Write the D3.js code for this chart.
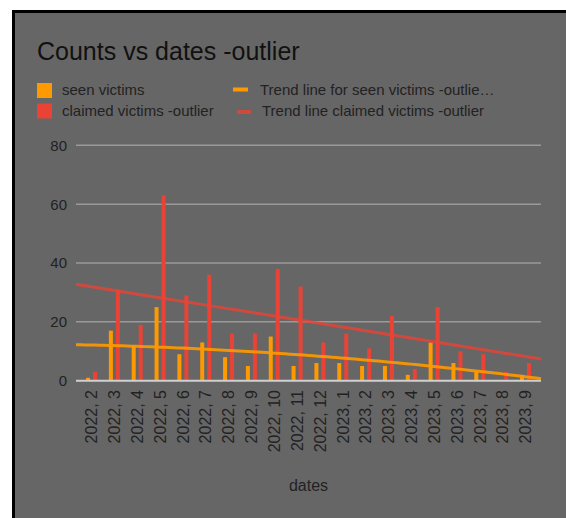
<!DOCTYPE html>
<html>
<head>
<meta charset="utf-8">
<script src="https://cdn.jsdelivr.net/npm/d3@7"></script>
<style>
  body { margin: 0; background: #fff; }
  text { font-family: "Liberation Sans", Arial, sans-serif; }
</style>
</head>
<body>
<script>
var width = 566,
    height = 518;

// months on the x axis
var dates = ['2022, 2', '2022, 3', '2022, 4', '2022, 5', '2022, 6', '2022, 7', '2022, 8', '2022, 9',
             '2022, 10', '2022, 11', '2022, 12', '2023, 1', '2023, 2', '2023, 3', '2023, 4', '2023, 5',
             '2023, 6', '2023, 7', '2023, 8', '2023, 9'];
var seen    = [1, 17, 12, 25, 9, 13, 8, 5, 15, 5, 6, 6, 5, 5, 2, 13, 6, 3, 0, 2];
var claimed = [3, 31, 19, 63, 29, 36, 16, 16, 38, 32, 13, 16, 11, 22, 4, 25, 10, 9, 3, 6];
var yTicks  = [0, 20, 40, 60, 80];

var plot = { left: 76, right: 541, top: 145.3, bottom: 380.7 };

var svg = d3.select('body').append('svg')
  .attr('width', width)
  .attr('height', height);

// grey card with a black frame on the top and left
svg.append('rect')
  .attr('x', 13.5).attr('y', 11.5)
  .attr('width', width).attr('height', height)
  .attr('fill', '#666666')
  .attr('stroke', '#000').attr('stroke-width', 3);

var x = d3.scaleLinear().domain([-0.68, 19.68]).range([plot.left, plot.right]);
var y = d3.scaleLinear().domain([0, 80]).range([plot.bottom, plot.top]);

// title
svg.append('text')
  .attr('x', 37).attr('y', 60)
  .attr('font-size', '25px')
  .attr('fill', '#111')
  .text('Counts vs dates -outlier');

// legend
var legend = svg.append('g');
legend.append('rect').attr('x', 37).attr('y', 83).attr('width', 15).attr('height', 15).attr('fill', '#ff9900');
legend.append('rect').attr('x', 37).attr('y', 103.5).attr('width', 15).attr('height', 15).attr('fill', '#ea4335');
legend.append('text').attr('x', 62).attr('y', 95).attr('font-size', '15px').attr('fill', '#222').text('seen victims');
legend.append('text').attr('x', 62).attr('y', 116).attr('font-size', '15px').attr('fill', '#222').text('claimed victims -outlier');
legend.append('line').attr('x1', 233).attr('x2', 248).attr('y1', 89.5).attr('y2', 89.5)
  .attr('stroke', '#ff9900').attr('stroke-width', 4);
legend.append('line').attr('x1', 237).attr('x2', 251).attr('y1', 112).attr('y2', 112)
  .attr('stroke', '#ea4335').attr('stroke-opacity', 0.8).attr('stroke-width', 4);
legend.append('text').attr('x', 260).attr('y', 95).attr('font-size', '15px').attr('fill', '#222').text('Trend line for seen victims -outlie\u2026');
legend.append('text').attr('x', 262).attr('y', 116).attr('font-size', '15px').attr('fill', '#222').text('Trend line claimed victims -outlier');

// gridlines and y labels
svg.selectAll('.grid')
  .data(yTicks.filter(function(d) { return d > 0; }))
  .enter().append('line')
  .attr('x1', plot.left).attr('x2', plot.right)
  .attr('y1', function(d) { return y(d); })
  .attr('y2', function(d) { return y(d); })
  .attr('stroke', '#9a9a9a').attr('stroke-width', 1.5);

svg.selectAll('.ylab')
  .data(yTicks)
  .enter().append('text')
  .attr('x', 67)
  .attr('y', function(d) { return y(d); })
  .attr('dy', '0.36em')
  .attr('text-anchor', 'end')
  .attr('font-size', '15px')
  .attr('fill', '#222')
  .text(function(d) { return d; });

// bars: seen left of the month, claimed right of it
var barW = 4;
svg.selectAll('.seen')
  .data(seen)
  .enter().append('rect')
  .attr('x', function(d, i) { return x(i) - 3.5 - barW / 2; })
  .attr('width', barW)
  .attr('y', function(d) { return y(d); })
  .attr('height', function(d) { return y(0) - y(d); })
  .attr('fill', '#ff9900');

svg.selectAll('.claimed')
  .data(claimed)
  .enter().append('rect')
  .attr('x', function(d, i) { return x(i) + 3.5 - barW / 2; })
  .attr('width', barW)
  .attr('y', function(d) { return y(d); })
  .attr('height', function(d) { return y(0) - y(d); })
  .attr('fill', '#ea4335');

// baseline
svg.append('line')
  .attr('x1', plot.left).attr('x2', plot.right)
  .attr('y1', y(0)).attr('y2', y(0))
  .attr('stroke', '#d0d0d0').attr('stroke-width', 2);

// least squares fit of given degree, returns coefficients c0 + c1*x + c2*x^2 ...
function polyfit(vals, deg) {
  var n = deg + 1, A = [], b = [];
  for (var r = 0; r < n; r++) {
    A.push([]);
    b.push(d3.sum(vals, function(v, i) { return v * Math.pow(i, r); }));
    for (var c = 0; c < n; c++) A[r].push(d3.sum(vals, function(v, i) { return Math.pow(i, r + c); }));
  }
  for (var k = 0; k < n; k++) {
    for (var j = k + 1; j < n; j++) {
      var f = A[j][k] / A[k][k];
      for (var m = k; m < n; m++) A[j][m] -= f * A[k][m];
      b[j] -= f * b[k];
    }
  }
  var coef = new Array(n);
  for (var k2 = n - 1; k2 >= 0; k2--) {
    var s = b[k2];
    for (var m2 = k2 + 1; m2 < n; m2++) s -= A[k2][m2] * coef[m2];
    coef[k2] = s / A[k2][k2];
  }
  return coef;
}

function trendPath(coef) {
  var pts = d3.range(0, 101).map(function(t) {
    var xi = x.domain()[0] + t / 100 * (x.domain()[1] - x.domain()[0]);
    var v = coef.reduce(function(acc, c, p) { return acc + c * Math.pow(xi, p); }, 0);
    return [x(xi), y(v)];
  });
  return d3.line()(pts);
}

svg.append('path')
  .attr('d', trendPath(polyfit(claimed, 1)))
  .attr('fill', 'none')
  .attr('stroke', '#ea4335').attr('stroke-opacity', 0.8).attr('stroke-width', 3);

svg.append('path')
  .attr('d', trendPath(polyfit(seen, 2)))
  .attr('fill', 'none')
  .attr('stroke', '#ff9900').attr('stroke-opacity', 0.9).attr('stroke-width', 3);

// x labels, rotated
svg.selectAll('.xlab')
  .data(dates)
  .enter().append('text')
  .attr('transform', function(d, i) { return 'translate(' + x(i) + ',390) rotate(-90)'; })
  .attr('dy', '0.36em')
  .attr('text-anchor', 'end')
  .attr('font-size', '16px')
  .attr('fill', '#222')
  .text(function(d) { return d; });

svg.append('text')
  .attr('x', (plot.left + plot.right) / 2).attr('y', 491)
  .attr('text-anchor', 'middle')
  .attr('font-size', '16px')
  .attr('fill', '#222')
  .text('dates');
</script>
</body>
</html>
